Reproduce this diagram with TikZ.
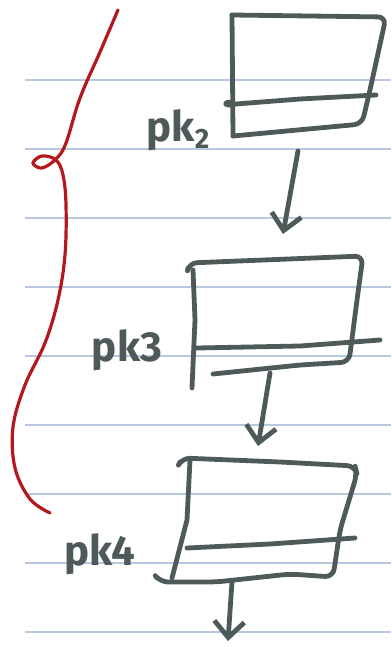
\documentclass[tikz,border=0pt]{standalone}
\usepackage{fontspec}
\setsansfont{Fira Sans}
\definecolor{inkgrau}{HTML}{4E5A5A}
\definecolor{rotstift}{HTML}{B3181C}
\definecolor{linie}{HTML}{B8C8E0}
\usetikzlibrary{arrows.meta, positioning}
\newcommand{\tiefzwei}{{\fontsize{28}{28}\selectfont\raisebox{-7pt}{2}}}

\begin{document}
\begin{tikzpicture}[
        x=1pt, y=-1pt,
        ink/.style={draw=inkgrau, line width=4.8pt, line cap=round,
                    line join=round},
        rule/.style={draw=linie, line width=1.2pt},
        brace/.style={draw=rotstift, line width=3.2pt, line cap=round},
        lbl/.style={inkgrau, font=\fontsize{42}{42}\selectfont\sffamily\bfseries,
                    inner sep=0pt},
        arr/.style={ink, -{Straight Barb[length=16pt, width=30pt]}}
      ]
      \useasboundingbox (0,0) rectangle (391,647);

      % ruled paper
      \foreach \y in {80,149,...,632}
        \draw[rule] (25,\y) -- (391,\y);

      % red brace
      \draw[brace] plot[smooth, tension=0.6] coordinates {
        (118,10) (100,52) (80,98) (66,143) (56,159) (42,168) (33,163)
        (42,156) (56,160) (63,175) (66,205) (65,255) (58,300)
        (45,343) (25,385) (13,427) (15,468) (30,499) (50,513)};

      % box pk2
      \draw[ink, rounded corners=8pt] (232,15) -- (386,17) -- (370,90)
        -- (362,124) -- (233,136);
      \draw[ink] (232,15) -- (233,136);
      \draw[ink] (232,103) .. controls (222,100) and (224,108) .. (236,104)
        -- (300,99) -- (376,95);
      \node[lbl] (kA) at (178,130) {pk\tiefzwei};
      \coordinate (sA) at (298,151);

      % box pk3
      \draw[ink, rounded corners=8pt] (188,268) -- (189,263) -- (363,256)
        -- (357,300) -- (349,362) -- (300,365) -- (213,374);
      \draw[ink] (193,270) -- (195,320) -- (192,388);
      \draw[ink] (197,348) -- (300,346) -- (380,340);
      \node[lbl] (kB) at (127,350) {pk3};
      \coordinate (nB) at (283,234);
      \coordinate (sB) at (270,373);

      % box pk4
      \draw[ink, rounded corners=8pt] (180,462) -- (182,458) -- (280,462)
        -- (355,466) -- (357,474) -- (340,530) -- (333,577) -- (290,574)
        -- (216,582) -- (160,582) -- (157,578);
      \draw[ink] (190,460) -- (187,520) -- (172,578);
      \draw[ink] (187,548) -- (270,544) -- (355,538);
      \node[lbl] (kC) at (100,554) {pk4};
      \coordinate (nC) at (258,446);
      \coordinate (sC) at (232,582);
      \coordinate (tC) at (228,641);

      % arrows
      \draw[arr] (sA) -- (nB);
      \draw[arr] (sB) -- (nC);
      \draw[arr] (sC) -- (tC);
    \end{tikzpicture}
\end{document}
